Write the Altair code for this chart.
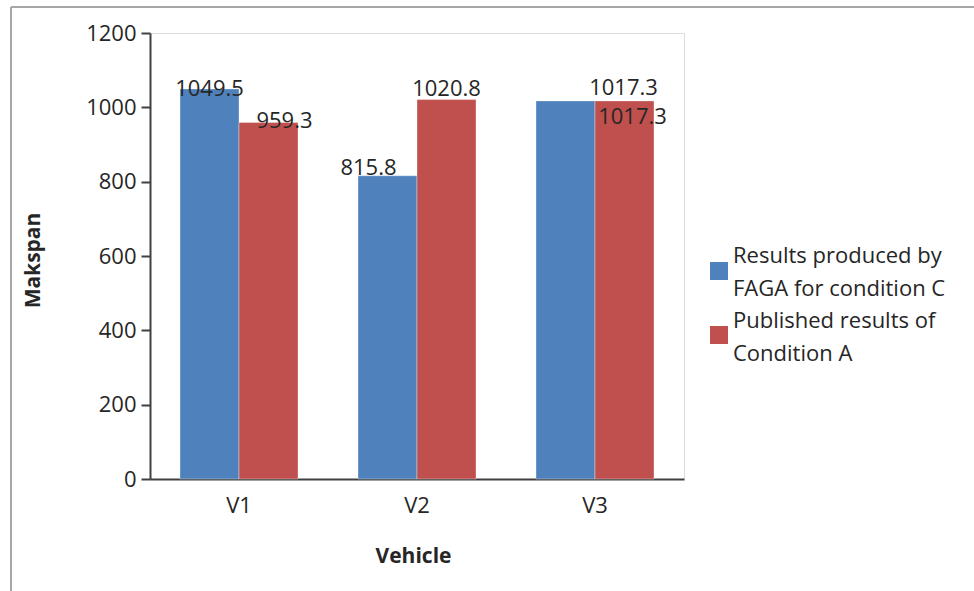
import altair as alt
import pandas as pd

# Makespan per vehicle for the two result sets
vehicles = ["V1", "V2", "V3"]
series = ["Results produced by FAGA for condition C", "Published results of Condition A"]
faga_values = [1049.5, 815.8, 1017.3]
published_values = [959.3, 1020.8, 1017.3]
legend_lines = [["Results produced by", "FAGA for condition C"],
                ["Published results of", "Condition A"]]
colors = ["#4F81BD", "#C0504D"]
y_ticks = [0, 200, 400, 600, 800, 1000, 1200]

rows = []
for v, a, b in zip(vehicles, faga_values, published_values):
    rows.append({"Vehicle": v, "Series": series[0], "Makspan": a})
    rows.append({"Vehicle": v, "Series": series[1], "Makspan": b})
df = pd.DataFrame(rows)

W, H = 534, 446
FONT = "Open Sans"
TEXT = "#262626"
FS = 22
TITLE_FS = 21

color_scale = alt.Scale(domain=series, range=colors)

x_enc = alt.X(
    "Vehicle:N", sort=vehicles,
    scale=alt.Scale(paddingInner=0.337, paddingOuter=0.1685),
    axis=alt.Axis(title="Vehicle", labelAngle=0, ticks=False, labelPadding=16,
                  labelFontSize=FS, labelFont=FONT, labelColor=TEXT,
                  titleFont=FONT, titleFontSize=TITLE_FS, titleFontWeight="bold",
                  titleColor=TEXT, titleY=77, titleX=263, titleBaseline="middle",
                  domainColor="#404040", domainWidth=2),
)
xoff_enc = alt.XOffset("Series:N", sort=series,
                       scale=alt.Scale(paddingInner=0, paddingOuter=0))
y_enc = alt.Y(
    "Makspan:Q",
    scale=alt.Scale(domain=[0, 1200], nice=False),
    axis=alt.Axis(title="Makspan", values=y_ticks, format="d", grid=False, tickSize=9,
                  labelPadding=5, labelFontSize=FS, labelFont=FONT, labelColor=TEXT,
                  tickColor="#404040", tickWidth=2,
                  domainColor="#404040", domainWidth=2,
                  titleFont=FONT, titleFontSize=TITLE_FS, titleFontWeight="bold",
                  titleColor=TEXT, titleAngle=-90, titleX=-117, titleY=H / 2 + 4,
                  titleAlign="center", titleBaseline="middle"),
)

base = alt.Chart(df).encode(x=x_enc, xOffset=xoff_enc, y=y_enc)

bars = base.mark_bar(stroke="#ffffff", strokeOpacity=0.35, strokeWidth=1).encode(
    color=alt.Color("Series:N", scale=color_scale, legend=None)
)

# value labels, each nudged like the data-label placement of the original figure
label_offsets = {
    ("V1", 0): (0, 0), ("V1", 1): (16, -1),
    ("V2", 0): (-19, -8), ("V2", 1): (0, -11),
    ("V3", 0): (67, 16), ("V3", 1): (-1, -13),
}
labels = []
for (veh, s), (dx, dy) in label_offsets.items():
    labels.append(
        base.transform_filter(
            (alt.datum.Vehicle == veh) & (alt.datum.Series == series[s])
        ).mark_text(font=FONT, fontSize=FS, color=TEXT, baseline="middle",
                    align="center", dx=dx, dy=dy)
        .encode(text=alt.Text("Makspan:Q", format=".1f"))
    )

# legend: swatches plus two-line captions
legend_df = pd.DataFrame({"Series": series})
legend_layers = []
for i, s in enumerate(series):
    sq = alt.Chart(legend_df).transform_filter(alt.datum.Series == s).mark_square(
        size=324, opacity=1
    ).encode(x=alt.value(569), y=alt.value(238 + 64 * i),
             color=alt.Color("Series:N", scale=color_scale, legend=None))
    tx = alt.Chart(legend_df).transform_filter(alt.datum.Series == s).mark_text(
        text=legend_lines[i], font=FONT, fontSize=FS, color=TEXT, align="left",
        baseline="middle", lineHeight=33
    ).encode(x=alt.value(583), y=alt.value(223 + 65 * i))
    legend_layers += [sq, tx]

# outer frame lines of the figure
frame_top = alt.Chart(legend_df).mark_rule(color="#a6a6a6", strokeWidth=2).encode(
    x=alt.value(-139), x2=alt.value(W + 300), y=alt.value(-26))
frame_left = alt.Chart(legend_df).mark_rule(color="#a6a6a6", strokeWidth=2).encode(
    x=alt.value(-139), y=alt.value(-26), y2=alt.value(H + 130))

chart = alt.layer(bars, *labels, *legend_layers, frame_top, frame_left).properties(
    width=W, height=H,
    autosize=alt.AutoSizeParams(type="none"),
    padding={"left": 150, "top": 33, "right": 290, "bottom": 112},
).configure_view(stroke="#d9d9d9", strokeWidth=1.5).configure(background="white")

chart.save("out.html", embed_options={"renderer": "svg", "actions": False})
